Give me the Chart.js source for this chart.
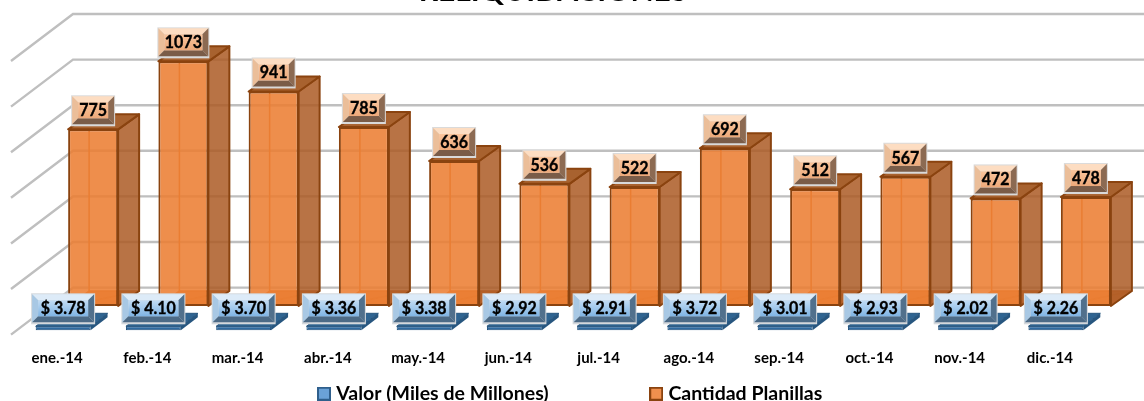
<!DOCTYPE html>
<html><head><meta charset="utf-8">
<style>html,body{margin:0;padding:0;background:#fff;overflow:hidden}canvas{display:block}</style>
<script src="https://cdn.jsdelivr.net/npm/chart.js@4"></script>
</head><body>
<canvas id="c" width="1144" height="401" style="width:1144px;height:401px"></canvas>
<script>
const categories = ['ene.-14','feb.-14','mar.-14','abr.-14','may.-14','jun.-14','jul.-14','ago.-14','sep.-14','oct.-14','nov.-14','dic.-14'];
const valorMiles = [3.78,4.10,3.70,3.36,3.38,2.92,2.91,3.72,3.01,2.93,2.02,2.26];
const cantidadPlanillas = [775,1073,941,785,636,536,522,692,512,567,472,478];
const titleText = 'RELIQUIDACIONES';
const seriesNames = ['Valor (Miles de Millones)','Cantidad Planillas'];
const FONT = 'Lato, Carlito, Calibri, sans-serif';

function marker(fill, stroke){
  const k = document.createElement('canvas'); k.width = 14; k.height = 14;
  const x = k.getContext('2d');
  x.fillStyle = fill; x.fillRect(0,0,14,14);
  x.strokeStyle = stroke; x.lineWidth = 2; x.strokeRect(1,1,12,12);
  return k;
}
const markers = [marker('#6AA2D8','#2F5F8C'), marker('#F0904E','#8A430F')];

function poly(ctx, pts, fill, stroke, lw){
  ctx.beginPath();
  pts.forEach((p,i)=> i ? ctx.lineTo(p[0],p[1]) : ctx.moveTo(p[0],p[1]));
  ctx.closePath();
  if (fill){ ctx.fillStyle = fill; ctx.fill(); }
  if (stroke){ ctx.strokeStyle = stroke; ctx.lineWidth = lw||1; ctx.stroke(); }
}

const plainOrange = {top:'#FDDDC2',left:'#EBBE99',right:'#8C6A52',bottom:'#7A5C48',g0:'#FAC49B',g1:'#EDA97A',edge:'#DADADA'};
const plainBlue = {top:'#DDEBF8',left:'#A8C8E4',right:'#51708C',bottom:'#4C6A86',g0:'#C2DCF4',g1:'#7FB4E4',edge:'#D4D8DC'};

function bevelLabel(ctx, cx, cy, w, h, text, pal){
  const l = cx-w/2, t = cy-h/2, r = cx+w/2, b = cy+h/2, d = 6;
  ctx.fillStyle = pal.edge; ctx.fillRect(l-1,t-1,w+2,h+3);
  poly(ctx,[[l,t],[r,t],[r-d,t+d],[l+d,t+d]],pal.top);
  poly(ctx,[[l,t],[l+d,t+d],[l+d,b-d],[l,b]],pal.left);
  poly(ctx,[[r,t],[r,b],[r-d,b-d],[r-d,t+d]],pal.right);
  poly(ctx,[[l,b],[l+d,b-d],[r-d,b-d],[r,b]],pal.bottom);
  const g = ctx.createLinearGradient(0,t+d,0,b-d);
  g.addColorStop(0,pal.g0); g.addColorStop(1,pal.g1);
  ctx.fillStyle = g; ctx.fillRect(l+d,t+d,w-2*d,h-2*d);
  ctx.fillStyle = '#000'; ctx.strokeStyle = '#000'; ctx.lineWidth = 0.35;
  ctx.font = 'bold 16.5px '+FONT;
  ctx.textAlign = 'center'; ctx.textBaseline = 'middle';
  const mw = ctx.measureText(text).width*0.97;
  ctx.fillText(text,cx,cy+0.5,mw);
  ctx.strokeText(text,cx,cy+0.5,mw);
}

const reliquidaciones3d = {
  id:'reliquidaciones3d',
  beforeLayout(chart){
    const lg = chart.legend;
    if (!lg._fixedFit){
      const fit = lg.fit;
      lg.fit = function(){ fit.call(this); this.height = 30; };
      lg._fixedFit = true;
    }
  },
  afterLayout(chart){
    const lg = chart.legend, pad = lg.options.labels.padding;
    const w = lg.lineWidths ? lg.lineWidths[0] : 0;
    lg.left = 321.5-pad; lg.right = 321.5+w;
    lg.top = 384-pad; lg.bottom = 401;
    const tb = chart.titleBlock;
    tb.top = -9-15; tb.left = -19; tb.right = 1125;
  },
  beforeDatasetsDraw(chart){
    const ctx = chart.ctx, y = chart.scales.y;
    ctx.save();
    ctx.strokeStyle = '#BFBFBF'; ctx.lineWidth = 2.4; ctx.lineCap = 'butt';
    y.ticks.filter(t=>t.value>=0).forEach(t=>{
      const p = y.getPixelForValue(t.value);
      ctx.beginPath();
      ctx.moveTo(11,p+28.6); ctx.lineTo(73,p-18.4); ctx.lineTo(1144,p-18.4);
      ctx.stroke();
    });
    ctx.restore();
  },
  beforeDatasetDraw(chart,args){
    const ctx = chart.ctx, meta = args.meta;
    ctx.save();
    ctx.lineJoin = 'round';
    meta.data.forEach(el=>{
      const l = el.x-el.width/2, r = el.x+el.width/2, t = el.y, b = el.base;
      if (args.index === 1){
        const dx = 21, dy = 15;
        poly(ctx,[[l,b],[r,b],[r+dx,b-dy],[l+dx,b-dy]],'rgba(224,120,47,0.85)');
        poly(ctx,[[l+dx,t-dy],[l+dx,b-dy]],null,'#DE7A36',1.5);
        poly(ctx,[[l,b],[l+dx,b-dy],[r+dx,b-dy]],null,'#DE7A36',1.5);
        poly(ctx,[[r,t],[r+dx,t-dy],[r+dx,b-dy],[r,b]],'rgba(172,90,36,0.85)','#8A430F',2);
        poly(ctx,[[l,t],[l+dx,t-dy],[r+dx,t-dy],[r,t]],'#A8622F','#8A430F',2);
      } else {
        const dx = 17, dy = 13;
        poly(ctx,[[l,t],[l+dx,t-dy],[r+dx,t-dy],[r,t]],'#2F6491','#27567F',1);
        poly(ctx,[[r,t],[r+dx,t-dy],[r+dx,b-dy],[r,b]],'#27567F');
      }
    });
    ctx.restore();
  },
  afterDatasetDraw(chart,args){
    const ctx = chart.ctx, meta = args.meta;
    if (args.index !== 1) return;
    ctx.save();
    meta.data.forEach((el,i)=>{
      const s = String(cantidadPlanillas[i]);
      bevelLabel(ctx, el.x, el.y-19, s.length>3?50:42, 28, s, plainOrange);
    });
    ctx.restore();
  },
  afterDatasetsDraw(chart){
    const ctx = chart.ctx, meta = chart.getDatasetMeta(0);
    ctx.save();
    meta.data.forEach((el,i)=>{
      bevelLabel(ctx, el.x, el.base-22, 62, 28, '$ '+valorMiles[i].toFixed(2), plainBlue);
    });
    ctx.restore();
  }
};

new Chart(document.getElementById('c'),{
  type:'bar',
  data:{labels:categories,datasets:[
    {label:seriesNames[0],data:valorMiles,yAxisID:'yValor',
     backgroundColor:'#2F6AA0',borderColor:'#1F4E79',borderWidth:1,borderSkipped:false,
     minBarLength:4,categoryPercentage:0.6647,barPercentage:1.83},
    {label:seriesNames[1],data:cantidadPlanillas,yAxisID:'y',
     backgroundColor:'rgba(236,125,49,0.87)',borderColor:'#8A430F',borderWidth:2,borderSkipped:false,
     categoryPercentage:0.6647,barPercentage:1.667}
  ]},
  options:{
    responsive:false,animation:false,
    layout:{autoPadding:false,padding:{left:33,right:28,top:2.4,bottom:0}},
    scales:{
      x:{grid:{display:false},border:{display:false},
         afterFit(s){s.height=37.6;},
         ticks:{color:'#000',padding:8,labelOffset:-21,maxRotation:0,autoSkip:false,
                font:{family:FONT,size:15,weight:'bold'}}},
      y:{display:false,min:-120,max:1200,ticks:{stepSize:200}},
      yValor:{display:false,position:'left',min:-13.6,max:1306.4}
    },
    plugins:{
      tooltip:{enabled:false},
      title:{display:true,text:titleText,color:'#000',padding:0,
             font:{family:FONT,size:30,weight:'bold',lineHeight:1}},
      legend:{display:true,position:'bottom',
        labels:{usePointStyle:true,boxWidth:5,boxHeight:14,padding:105,color:'#000',
          font:{family:FONT,size:19.5,weight:'bold'},
          generateLabels(chart){
            return chart.data.datasets.map((d,i)=>({
              text:d.label,pointStyle:markers[i],datasetIndex:i,
              fontColor:'#000',fillStyle:'#000',strokeStyle:'#000',lineWidth:0,hidden:false
            }));
          }}}
    }
  },
  plugins:[reliquidaciones3d]
});
</script>
</body></html>
